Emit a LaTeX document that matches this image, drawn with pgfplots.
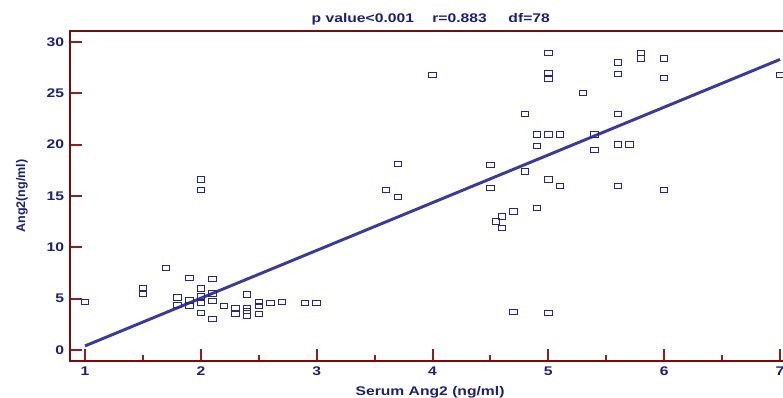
\documentclass[border=0pt]{standalone}
\usepackage{pgfplots}
\pgfplotsset{compat=1.18}
\usepackage{fontspec}
\setmainfont{Liberation Sans}
\definecolor{navy}{HTML}{1E1E7E}
\definecolor{axred}{HTML}{7A0C0C}
\definecolor{tickred}{HTML}{8E2020}
\definecolor{linecol}{HTML}{3A3AA0}
\definecolor{mk}{HTML}{25258E}
\begin{document}
\begin{tikzpicture}[x=1pt,y=1pt]
\useasboundingbox (-52.5,-27.75) rectangle (534.75,270.75);
\begin{axis}[
  scale only axis, width=534.75pt, height=247.5pt,
  at={(0,0)}, anchor=south west,
  xmin=0.870, xmax=7.026, ymin=-1.07, ymax=31.07,
  axis line style={draw=none},
  xtick={1,2,3,4,5,6,7}, minor xtick={1.5,2.5,3.5,4.5,5.5,6.5},
  ytick={0,5,10,15,20,25,30},
  xtick pos=left, ytick pos=left,
  tick align=inside,
  major tick length=9pt, minor tick length=4.5pt,
  xtick style={draw=tickred, line width=1.5pt},
  ytick style={draw=tickred, line width=1.5pt},
  /pgf/number format/assume math mode=true,
  ticklabel style={font=\bfseries\fontsize{9.4}{11}\selectfont, text=navy, xscale=1.25},
  xticklabel style={yshift=-1pt},
  xlabel={Serum Ang2 (ng/ml)},
  ylabel={Ang2(ng/ml)},
  xlabel style={at={(axis description cs:0.505,-0.094)}, anchor=center, font=\bfseries\fontsize{9.4}{11}\selectfont, text=navy, xscale=1.25},
  ylabel style={at={(axis description cs:-0.0673,0.5)}, anchor=center, rotate=0, font=\bfseries\fontsize{9.4}{11}\selectfont, text=navy},
  title={p value<0.001\hspace{11pt}r=0.883\hspace{13pt}df=78},
  every axis title shift=0pt,
  title style={at={(axis description cs:0.506,1.036)}, anchor=center, font=\bfseries\fontsize{9.4}{11}\selectfont, text=navy, xscale=1.25},
  clip=false,
]
\draw[axred, line width=2.2pt, line cap=rect] (rel axis cs:1,1) -- (rel axis cs:0,1) -- (rel axis cs:0,0) -- (rel axis cs:1,0);
\addplot[linecol, line width=2.2pt] coordinates {(1,0.4) (7,28.3)};
\addplot[only marks, mark=square, mark size=2pt, mark options={mk, line width=0.75pt, xscale=1.4}] table {
x y
1.0 4.7
1.5 6.0
1.5 5.5
1.7 8.0
1.8 5.1
1.8 4.4
1.9 7.0
1.9 4.9
1.9 4.3
2.0 6.0
2.0 5.2
2.0 4.6
2.0 3.6
2.0 16.6
2.0 15.6
2.1 6.9
2.1 5.5
2.1 4.8
2.1 3.0
2.2 4.3
2.3 4.1
2.3 3.5
2.4 5.4
2.4 4.1
2.4 3.8
2.4 3.3
2.5 4.7
2.5 4.3
2.5 3.5
2.6 4.6
2.7 4.7
2.9 4.6
3.0 4.6
3.6 15.6
3.7 18.1
3.7 14.9
4.0 26.8
4.5 18.0
4.5 15.8
4.55 12.5
4.6 13.0
4.6 11.9
4.7 13.5
4.7 3.7
4.8 23.0
4.8 17.4
4.9 21.0
4.9 19.9
4.9 13.8
5.0 28.9
5.0 27.0
5.0 26.4
5.0 21.0
5.0 16.6
5.0 3.6
5.1 21.0
5.1 16.0
5.3 25.0
5.4 21.0
5.4 19.5
5.6 28.0
5.6 26.9
5.6 23.0
5.6 20.0
5.6 16.0
5.7 20.0
5.8 28.9
5.8 28.4
6.0 28.4
6.0 26.5
6.0 15.6
7.0 26.8
};
\end{axis}
\end{tikzpicture}
\end{document}
